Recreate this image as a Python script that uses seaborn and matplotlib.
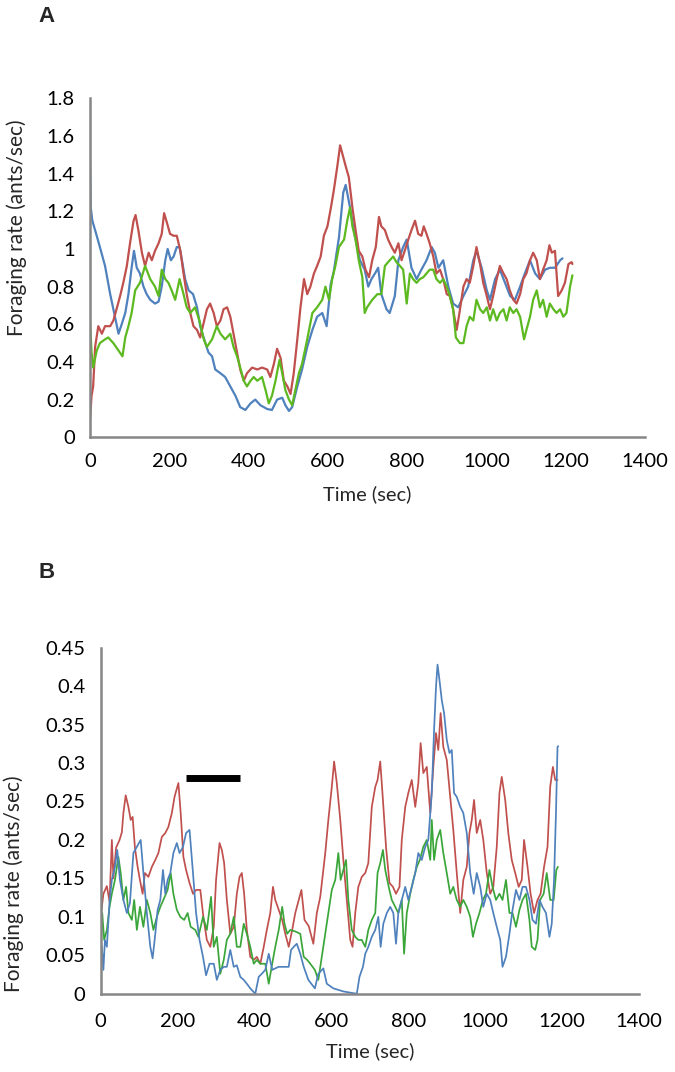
import pandas as pd
import seaborn as sns
import matplotlib.pyplot as plt

# ---------------- Panel A data (time in sec, foraging rate in ants/sec) ----------------
a_blue_t = [0, 2, 6, 17, 25, 38, 51, 59, 67, 72, 80, 89, 97, 105, 111, 118, 126, 135, 143, 152,
            164, 173, 181, 190, 196, 204, 211, 219, 226, 232, 240, 249, 260, 270, 278, 291, 299,
            308, 316, 329, 341, 354, 367, 379, 392, 405, 417, 430, 447, 459, 472, 485, 493, 502,
            510, 523, 535, 548, 561, 573, 586, 597, 607, 615, 628, 639, 645, 656, 668, 681, 693,
            702, 710, 719, 727, 735, 748, 756, 769, 778, 790, 799, 811, 824, 836, 849, 862, 870,
            879, 891, 904, 916, 929, 942, 954, 967, 975, 988, 1001, 1009, 1022, 1034, 1047, 1060,
            1072, 1085, 1097, 1110, 1123, 1135, 1148, 1160, 1173, 1186, 1192]
a_blue_v = [1.48, 1.22, 1.15, 1.07, 1.01, 0.91, 0.76, 0.68, 0.60, 0.55, 0.60, 0.66, 0.76, 0.90, 0.99,
            0.90, 0.87, 0.80, 0.76, 0.73, 0.71, 0.72, 0.80, 0.94, 1.00, 0.94, 0.96, 1.01, 1.01, 0.94,
            0.84, 0.78, 0.76, 0.69, 0.59, 0.50, 0.45, 0.43, 0.36, 0.34, 0.32, 0.27, 0.22, 0.16, 0.145,
            0.18, 0.20, 0.17, 0.15, 0.145, 0.20, 0.21, 0.17, 0.14, 0.16, 0.27, 0.36, 0.48, 0.57, 0.64,
            0.66, 0.59, 0.81, 0.88, 1.06, 1.30, 1.34, 1.22, 1.07, 0.94, 0.89, 0.80, 0.84, 0.87, 0.90,
            0.76, 0.68, 0.66, 0.75, 0.94, 1.01, 1.05, 0.90, 0.84, 0.89, 0.94, 1.01, 0.98, 0.90, 0.94,
            0.80, 0.71, 0.69, 0.75, 0.80, 0.94, 0.99, 0.90, 0.78, 0.73, 0.84, 0.89, 0.82, 0.75, 0.73,
            0.80, 0.87, 0.94, 0.87, 0.84, 0.89, 0.90, 0.90, 0.94, 0.95]

a_red_t = [0, 4, 8, 13, 21, 30, 38, 51, 59, 67, 76, 84, 93, 101, 110, 115, 122, 131, 139, 148, 156,
           164, 173, 181, 187, 194, 202, 211, 219, 228, 236, 244, 253, 261, 270, 278, 287, 295, 303,
           312, 320, 329, 337, 346, 354, 362, 371, 379, 388, 396, 409, 422, 434, 447, 455, 464, 472,
           481, 489, 498, 506, 514, 523, 531, 540, 548, 556, 565, 573, 582, 590, 599, 607, 615, 624,
           631, 636, 645, 653, 662, 670, 678, 687, 695, 704, 712, 721, 729, 735, 744, 752, 761, 769,
           778, 786, 794, 803, 811, 820, 828, 836, 842, 849, 857, 866, 874, 883, 891, 900, 908, 916,
           925, 932, 942, 950, 958, 967, 975, 984, 992, 1001, 1009, 1017, 1026, 1034, 1043, 1051,
           1059, 1068, 1076, 1085, 1093, 1101, 1110, 1118, 1127, 1135, 1143, 1152, 1159, 1165, 1173,
           1181, 1190, 1198, 1207, 1215, 1217]
a_red_v = [0.09, 0.22, 0.27, 0.48, 0.59, 0.55, 0.59, 0.59, 0.62, 0.68, 0.75, 0.82, 0.91, 1.03, 1.15,
           1.18, 1.10, 0.98, 0.91, 0.98, 0.94, 0.99, 1.03, 1.08, 1.19, 1.14, 1.08, 1.07, 1.07, 0.99,
           0.87, 0.76, 0.66, 0.59, 0.57, 0.53, 0.61, 0.68, 0.71, 0.66, 0.59, 0.62, 0.68, 0.69, 0.64,
           0.55, 0.45, 0.36, 0.30, 0.34, 0.37, 0.36, 0.37, 0.36, 0.32, 0.39, 0.47, 0.42, 0.30, 0.27,
           0.23, 0.34, 0.52, 0.69, 0.84, 0.76, 0.80, 0.87, 0.91, 0.96, 1.07, 1.12, 1.21, 1.31, 1.44,
           1.55, 1.51, 1.44, 1.38, 1.22, 1.10, 0.99, 0.96, 0.89, 0.85, 0.94, 1.01, 1.17, 1.12, 1.10,
           1.05, 1.01, 0.98, 1.03, 0.94, 0.99, 1.05, 1.10, 1.15, 1.08, 1.07, 1.12, 1.08, 1.03, 0.96,
           0.87, 0.89, 0.84, 0.76, 0.75, 0.68, 0.57, 0.66, 0.80, 0.84, 0.82, 0.91, 1.01, 0.92, 0.82,
           0.75, 0.68, 0.75, 0.84, 0.91, 0.87, 0.84, 0.78, 0.73, 0.71, 0.76, 0.84, 0.87, 0.94, 0.98,
           0.94, 0.84, 0.89, 0.94, 1.02, 0.98, 0.99, 0.75, 0.78, 0.82, 0.92, 0.93, 0.92]

a_green_t = [0, 4, 8, 17, 25, 38, 46, 59, 72, 82, 89, 97, 105, 114, 126, 139, 152, 164, 173, 181,
             190, 198, 206, 215, 226, 236, 244, 253, 265, 276, 287, 295, 308, 320, 329, 341, 354,
             362, 371, 379, 388, 396, 405, 413, 422, 434, 443, 451, 459, 468, 478, 485, 493, 502,
             510, 518, 527, 535, 548, 561, 573, 586, 594, 603, 611, 619, 628, 641, 649, 656, 662,
             670, 678, 687, 693, 699, 712, 725, 735, 744, 752, 765, 773, 782, 790, 799, 807, 815,
             824, 832, 841, 849, 857, 866, 874, 883, 891, 900, 908, 916, 923, 933, 942, 950, 958,
             967, 975, 984, 992, 1001, 1009, 1017, 1026, 1034, 1043, 1051, 1059, 1068, 1076, 1085,
             1095, 1101, 1110, 1118, 1127, 1135, 1143, 1152, 1160, 1169, 1177, 1186, 1194, 1202,
             1211, 1217]
a_green_v = [0.62, 0.45, 0.37, 0.46, 0.50, 0.52, 0.53, 0.50, 0.46, 0.43, 0.53, 0.59, 0.66, 0.78, 0.82,
             0.91, 0.84, 0.80, 0.75, 0.89, 0.84, 0.82, 0.78, 0.73, 0.84, 0.76, 0.69, 0.66, 0.69, 0.62,
             0.52, 0.48, 0.52, 0.59, 0.55, 0.52, 0.55, 0.48, 0.43, 0.37, 0.30, 0.27, 0.30, 0.32, 0.30,
             0.32, 0.25, 0.18, 0.22, 0.30, 0.41, 0.34, 0.25, 0.20, 0.17, 0.25, 0.34, 0.39, 0.52, 0.66,
             0.69, 0.73, 0.80, 0.73, 0.84, 0.91, 1.01, 1.05, 1.15, 1.22, 1.12, 1.05, 0.94, 0.85, 0.66,
             0.69, 0.73, 0.76, 0.76, 0.91, 0.93, 0.96, 0.93, 0.91, 0.89, 0.71, 0.87, 0.84, 0.82, 0.84,
             0.85, 0.87, 0.89, 0.89, 0.84, 0.82, 0.84, 0.80, 0.75, 0.68, 0.53, 0.50, 0.50, 0.59, 0.64,
             0.62, 0.73, 0.68, 0.66, 0.69, 0.62, 0.68, 0.62, 0.66, 0.68, 0.62, 0.69, 0.66, 0.68, 0.64,
             0.52, 0.57, 0.64, 0.73, 0.78, 0.69, 0.73, 0.64, 0.71, 0.68, 0.66, 0.68, 0.64, 0.66, 0.80,
             0.86]

# ---------------- Panel B data ----------------
b_red_t = [0, 7, 16, 23, 29, 33, 40, 49, 55, 59, 65, 72, 78, 83, 89, 96, 102, 109, 115, 124, 133,
           142, 150, 159, 168, 176, 185, 192, 202, 208, 215, 222, 231, 240, 248, 259, 267, 276, 285,
           294, 300, 309, 315, 321, 328, 337, 346, 354, 361, 367, 373, 380, 389, 398, 406, 415, 424,
           432, 441, 448, 454, 463, 472, 480, 489, 498, 506, 515, 522, 530, 541, 553, 562, 571, 584,
           592, 601, 607, 614, 623, 631, 640, 649, 655, 662, 670, 679, 688, 696, 705, 714, 720, 727,
           734, 742, 751, 760, 768, 777, 783, 792, 800, 809, 818, 826, 832, 839, 848, 857, 865, 872,
           878, 884, 891, 900, 909, 917, 926, 935, 943, 952, 959, 965, 971, 978, 987, 995, 1004,
           1013, 1021, 1030, 1037, 1043, 1052, 1060, 1069, 1078, 1087, 1095, 1101, 1110, 1118,
           1127, 1136, 1144, 1153, 1162, 1169, 1176, 1182, 1188]
b_red_v = [0.10, 0.13, 0.14, 0.12, 0.20, 0.15, 0.19, 0.20, 0.21, 0.235, 0.258, 0.243, 0.226, 0.23,
           0.19, 0.165, 0.148, 0.13, 0.157, 0.152, 0.165, 0.174, 0.183, 0.204, 0.209, 0.217, 0.235,
           0.256, 0.274, 0.235, 0.178, 0.161, 0.144, 0.13, 0.135, 0.135, 0.10, 0.07, 0.061, 0.087,
           0.148, 0.196, 0.187, 0.17, 0.122, 0.078, 0.087, 0.13, 0.152, 0.157, 0.13, 0.083, 0.048,
           0.044, 0.048, 0.039, 0.061, 0.083, 0.105, 0.139, 0.122, 0.109, 0.096, 0.078, 0.061,
           0.083, 0.105, 0.122, 0.135, 0.096, 0.088, 0.065, 0.105, 0.126, 0.183, 0.226, 0.269,
           0.302, 0.274, 0.226, 0.174, 0.122, 0.07, 0.061, 0.105, 0.139, 0.152, 0.157, 0.17, 0.243,
           0.269, 0.278, 0.302, 0.252, 0.191, 0.144, 0.139, 0.13, 0.139, 0.20, 0.243, 0.261, 0.278,
           0.243, 0.274, 0.326, 0.287, 0.295, 0.235, 0.295, 0.339, 0.317, 0.365, 0.321, 0.304,
           0.256, 0.213, 0.157, 0.105, 0.148, 0.165, 0.209, 0.226, 0.252, 0.209, 0.226, 0.20, 0.157,
           0.13, 0.139, 0.191, 0.261, 0.282, 0.252, 0.209, 0.174, 0.157, 0.139, 0.148, 0.20, 0.165,
           0.13, 0.105, 0.122, 0.13, 0.165, 0.191, 0.269, 0.295, 0.278, 0.278]

b_blue_t = [0, 3, 7, 11, 16, 23, 29, 37, 43, 50, 59, 68, 76, 85, 94, 104, 111, 120, 129, 135, 142,
            148, 155, 162, 168, 174, 181, 189, 198, 205, 214, 222, 231, 240, 248, 257, 266, 274,
            283, 294, 302, 311, 320, 328, 337, 346, 354, 363, 372, 380, 389, 402, 411, 419, 428,
            437, 446, 454, 463, 472, 480, 489, 495, 502, 510, 519, 528, 540, 557, 566, 579, 588,
            605, 631, 666, 673, 682, 688, 696, 705, 714, 722, 728, 735, 744, 753, 761, 768, 774,
            783, 792, 800, 809, 818, 826, 835, 844, 852, 861, 867, 872, 876, 881, 887, 893, 900,
            907, 913, 919, 926, 935, 943, 952, 961, 970, 978, 987, 995, 1004, 1013, 1021, 1030,
            1039, 1045, 1054, 1063, 1071, 1080, 1089, 1097, 1106, 1115, 1123, 1132, 1141, 1149,
            1158, 1167, 1173, 1179, 1184, 1188, 1190]
b_blue_v = [0.018, 0.061, 0.031, 0.07, 0.061, 0.12, 0.148, 0.165, 0.187, 0.148, 0.122, 0.105,
            0.118, 0.183, 0.191, 0.20, 0.157, 0.105, 0.061, 0.046, 0.078, 0.109, 0.122, 0.161,
            0.13, 0.148, 0.157, 0.183, 0.196, 0.183, 0.191, 0.209, 0.213, 0.157, 0.105, 0.07,
            0.048, 0.024, 0.039, 0.039, 0.018, 0.031, 0.035, 0.035, 0.057, 0.035, 0.037, 0.022,
            0.018, 0.013, 0.007, 0.0, 0.022, 0.026, 0.031, 0.052, 0.031, 0.033, 0.035, 0.035,
            0.035, 0.035, 0.057, 0.061, 0.065, 0.052, 0.035, 0.018, 0.007, 0.026, 0.033, 0.013,
            0.007, 0.003, 0.0, 0.022, 0.035, 0.052, 0.061, 0.074, 0.083, 0.10, 0.061, 0.091, 0.105,
            0.113, 0.105, 0.065, 0.105, 0.122, 0.139, 0.122, 0.139, 0.157, 0.183, 0.174, 0.191,
            0.20, 0.261, 0.343, 0.399, 0.428, 0.408, 0.382, 0.365, 0.33, 0.313, 0.317, 0.261,
            0.256, 0.243, 0.235, 0.209, 0.157, 0.13, 0.157, 0.139, 0.113, 0.13, 0.122, 0.105, 0.087,
            0.07, 0.035, 0.048, 0.078, 0.109, 0.135, 0.122, 0.139, 0.139, 0.122, 0.096, 0.091,
            0.122, 0.113, 0.105, 0.074, 0.091, 0.148, 0.235, 0.321, 0.322]

b_green_t = [0, 4, 9, 16, 23, 29, 37, 46, 52, 59, 66, 72, 81, 87, 94, 102, 111, 120, 129, 137, 146,
             155, 163, 174, 182, 189, 198, 207, 217, 226, 234, 246, 254, 266, 276, 287, 294, 302,
             311, 320, 328, 337, 346, 354, 363, 372, 380, 389, 398, 406, 415, 428, 437, 446, 454,
             463, 472, 478, 485, 493, 506, 519, 528, 537, 545, 557, 566, 575, 584, 592, 601, 610,
             618, 624, 631, 638, 644, 653, 662, 670, 679, 688, 696, 705, 714, 720, 727, 734, 740,
             749, 757, 766, 774, 783, 789, 796, 805, 813, 822, 830, 839, 848, 857, 861, 867, 874,
             883, 891, 900, 909, 917, 926, 935, 943, 952, 961, 968, 976, 985, 994, 1002, 1011,
             1019, 1028, 1037, 1045, 1054, 1063, 1071, 1080, 1089, 1097, 1106, 1115, 1121, 1130,
             1136, 1143, 1152, 1160, 1169, 1178, 1185, 1189]
b_green_v = [0.061, 0.105, 0.07, 0.083, 0.113, 0.13, 0.148, 0.178, 0.157, 0.122, 0.139, 0.105,
             0.096, 0.122, 0.083, 0.113, 0.087, 0.122, 0.105, 0.083, 0.10, 0.113, 0.122, 0.135,
             0.157, 0.13, 0.109, 0.10, 0.096, 0.105, 0.087, 0.083, 0.074, 0.10, 0.083, 0.126, 0.061,
             0.074, 0.026, 0.044, 0.07, 0.078, 0.10, 0.061, 0.061, 0.091, 0.078, 0.061, 0.039,
             0.044, 0.039, 0.039, 0.013, 0.039, 0.061, 0.083, 0.113, 0.091, 0.078, 0.083, 0.081,
             0.078, 0.048, 0.044, 0.039, 0.031, 0.018, 0.048, 0.078, 0.105, 0.135, 0.148, 0.183,
             0.148, 0.161, 0.174, 0.122, 0.083, 0.074, 0.07, 0.07, 0.061, 0.083, 0.096, 0.105,
             0.157, 0.17, 0.187, 0.161, 0.139, 0.122, 0.113, 0.105, 0.122, 0.052, 0.105, 0.13,
             0.148, 0.165, 0.174, 0.191, 0.20, 0.174, 0.226, 0.174, 0.20, 0.213, 0.183, 0.157,
             0.13, 0.139, 0.122, 0.113, 0.122, 0.113, 0.10, 0.074, 0.091, 0.105, 0.122, 0.13,
             0.161, 0.139, 0.122, 0.13, 0.122, 0.148, 0.105, 0.105, 0.087, 0.109, 0.122, 0.13,
             0.096, 0.061, 0.057, 0.07, 0.122, 0.13, 0.157, 0.122, 0.122, 0.161, 0.165]

# black bar drawn above panel B traces
bar_start, bar_end, bar_level = 222, 363, 0.281

a_yticks = [0, 0.2, 0.4, 0.6, 0.8, 1.0, 1.2, 1.4, 1.6, 1.8]
a_ylabels = ["0", "0.2", "0.4", "0.6", "0.8", "1", "1.2", "1.4", "1.6", "1.8"]
b_yticks = [0, 0.05, 0.1, 0.15, 0.2, 0.25, 0.3, 0.35, 0.4, 0.45]
b_ylabels = ["0", "0.05", "0.1", "0.15", "0.2", "0.25", "0.3", "0.35", "0.4", "0.45"]
xticks = [0, 200, 400, 600, 800, 1000, 1200, 1400]

BLUE, RED = "#4F81BD", "#C0504D"
GREEN_A, GREEN_B = "#5CB920", "#3AA63A"
AXIS_GREY = "#868686"


def make_frame(parts):
    frames = [pd.DataFrame({"time": t, "rate": v, "series": name}) for name, t, v in parts]
    return pd.concat(frames, ignore_index=True)


df_a = make_frame([("blue", a_blue_t, a_blue_v), ("red", a_red_t, a_red_v),
                   ("green", a_green_t, a_green_v)])
df_b = make_frame([("red", b_red_t, b_red_v), ("green", b_green_t, b_green_v),
                   ("blue", b_blue_t, b_blue_v)])

sns.set_style("white")
plt.rcParams["font.family"] = ["Lato", "DejaVu Sans"]

fig = plt.figure(figsize=(6.75, 10.72), dpi=100)
ax_a = fig.add_axes([0.1333, 0.5921, 0.8222, 0.3162])
ax_b = fig.add_axes([0.1492, 0.0730, 0.7975, 0.3228])

sns.lineplot(data=df_a, x="time", y="rate", hue="series", estimator=None, sort=False,
             palette={"blue": BLUE, "red": RED, "green": GREEN_A}, legend=False,
             linewidth=1.6, ax=ax_a)
sns.lineplot(data=df_b, x="time", y="rate", hue="series", estimator=None, sort=False,
             palette={"blue": BLUE, "red": RED, "green": GREEN_B}, legend=False,
             linewidth=1.25, ax=ax_b)
ax_b.plot([bar_start, bar_end], [bar_level, bar_level], color="black", lw=5,
          solid_capstyle="butt")

# (axis, y ticks, y labels, y max, x-label pad, xlabel y, ylabel x, ylabel y)
panels = [(ax_a, a_yticks, a_ylabels, 1.8, 6, -0.143, -0.113, 0.618),
          (ax_b, b_yticks, b_ylabels, 0.45, 9, -0.140, -0.142, 0.317)]
for ax, yt, yl, ytop, xpad, xl_y, yl_x, yl_y in panels:
    ax.set_xlim(0, 1400)
    ax.set_ylim(0, ytop)
    ax.set_xticks(xticks)
    ax.set_xticklabels([str(x) for x in xticks])
    ax.set_yticks(yt)
    ax.set_yticklabels(yl)
    for side in ["top", "right"]:
        ax.spines[side].set_visible(False)
    for side in ["left", "bottom"]:
        ax.spines[side].set_color(AXIS_GREY)
        ax.spines[side].set_linewidth(1.8)
    ax.tick_params(direction="out", length=5, width=1.8, color=AXIS_GREY,
                   labelsize=14.5, labelcolor="black")
    ax.tick_params(axis="y", pad=6)
    ax.tick_params(axis="x", pad=xpad)
    ax.set_xlabel("Time (sec)", fontsize=14.5)
    ax.set_ylabel("Foraging rate (ants/sec)", fontsize=15)
    ax.xaxis.set_label_coords(0.5, xl_y)
    ax.yaxis.set_label_coords(yl_x, yl_y)

fig.text(38 / 675, 1 - 17 / 1072, "A", fontsize=16, fontweight="bold",
         family="Liberation Sans", va="center", ha="left")
fig.text(38 / 675, 1 - 573 / 1072, "B", fontsize=16, fontweight="bold",
         family="Liberation Sans", va="center", ha="left")

fig.savefig("out.png", dpi=100, facecolor="white")
